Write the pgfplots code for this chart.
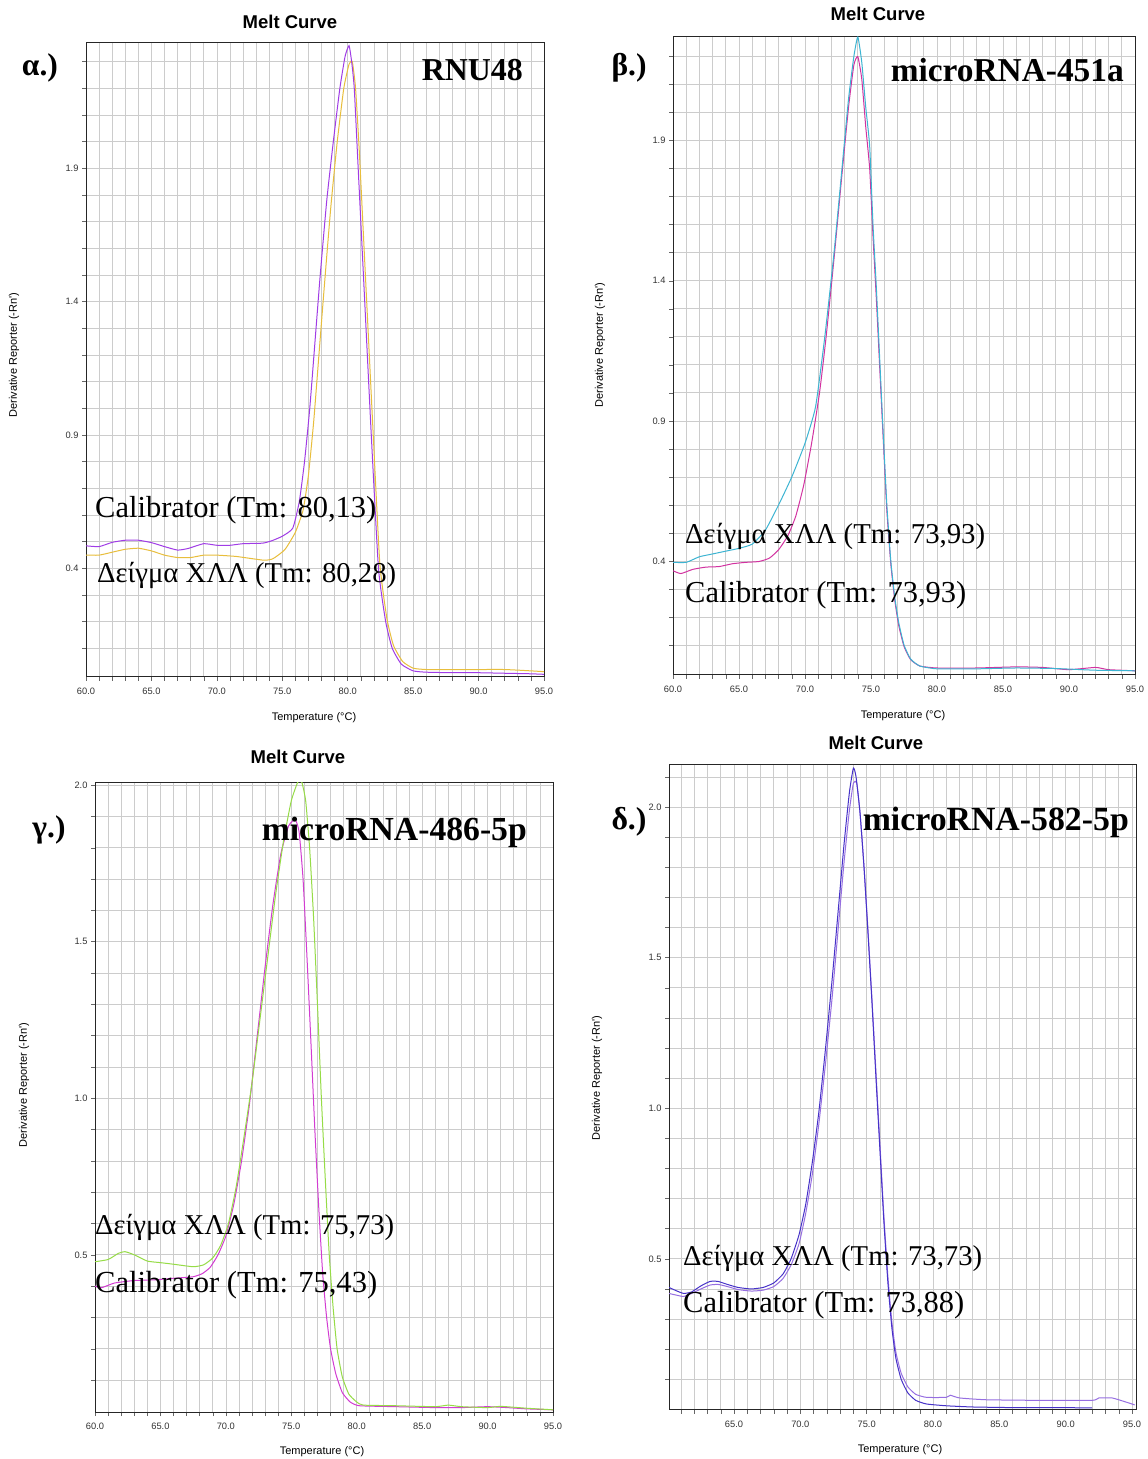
\documentclass[border=0pt]{standalone}
\usepackage{pgfplots}
\pgfplotsset{compat=1.18}
\usepackage{fontspec}
\setmainfont{Liberation Serif}
\newfontfamily\sansf{Liberation Sans}
\definecolor{apur}{RGB}{160,60,230}
\definecolor{ayel}{RGB}{232,190,60}
\definecolor{bcya}{RGB}{60,180,210}
\definecolor{bmag}{RGB}{210,50,160}
\definecolor{ggrn}{RGB}{150,220,70}
\definecolor{gmag}{RGB}{210,60,210}
\definecolor{ddrk}{RGB}{70,50,200}
\definecolor{dlgt}{RGB}{150,110,225}
\pgfplotsset{mc/.style={scale only axis, anchor=south west, xmin=60, xmax=95,
  grid=both, major grid style={draw=gray!40, line width=0.7pt}, minor grid style={draw=gray!40, line width=0.7pt},
  axis line style={draw=black!85, line width=1pt},
  tick align=outside, xtick pos=bottom, ytick pos=left,
  major tick length=4pt, minor tick length=4pt, tick style={black!60, line width=0.5pt},
  xtick={60,65,...,95}, xticklabels={60.0,65.0,70.0,75.0,80.0,85.0,90.0,95.0},
  minor xtick={61,62,...,94},
  tick label style={font=\sansf\fontsize{9.3}{10}\selectfont, text=black!80},
  xticklabel style={yshift=-3pt},
  every axis plot/.append style={line width=1pt, smooth, tension=0.3, mark=none}}}
\newcommand{\ann}[2]{\resizebox{#1pt}{!}{#2}}
\begin{document}
\begin{tikzpicture}
\path[use as bounding box, fill=white] (0pt,0pt) rectangle (1148pt,1459pt);
% ---------- alpha ----------
\begin{axis}[mc, at={(86pt,782pt)}, width=458pt, height=634pt, ymin=-0.008, ymax=2.37,
  ytick={0.4,0.9,1.4,1.9}, yticklabels={0.4,0.9,1.4,1.9}, minor ytick={0.1,0.2,...,2.35}]
\addplot[ayel] coordinates {(60,0.449)(61,0.449)(62,0.46)(63,0.471)(64,0.475)(65,0.465)(66,0.449)(67,0.44)(68,0.44)(69,0.449)(70,0.449)(71.5,0.444)(73.6,0.43)(74.3,0.436)(75.2,0.47)(76,0.535)(76.6,0.62)(77.0,0.75)(77.4,0.95)(77.8,1.2)(78.2,1.45)(78.7,1.75)(79.2,2.0)(79.7,2.2)(80.1,2.29)(80.35,2.3)(80.6,2.2)(80.9,1.95)(81.4,1.45)(81.9,0.95)(82.45,0.42)(83.0,0.21)(83.5,0.11)(84.2,0.05)(85,0.025)(86,0.02)(88,0.02)(90,0.02)(92,0.02)(94,0.015)(95,0.012)};
\addplot[apur] coordinates {(60,0.484)(61,0.481)(62,0.497)(63,0.505)(64,0.505)(65,0.496)(66,0.481)(67,0.468)(67.8,0.474)(69,0.492)(70,0.486)(71,0.486)(72,0.492)(73.5,0.494)(74.2,0.503)(75,0.52)(75.8,0.55)(76.3,0.65)(76.7,0.8)(77.1,1.0)(77.5,1.25)(77.9,1.5)(78.4,1.78)(78.9,2.0)(79.4,2.2)(79.8,2.32)(80.1,2.36)(80.3,2.3)(80.5,2.2)(80.8,1.9)(81.3,1.4)(81.8,0.9)(82.35,0.4)(82.9,0.2)(83.4,0.1)(84.1,0.04)(85,0.015)(86,0.01)(88,0.008)(90,0.008)(92,0.006)(94,0.004)(95,0.002)};
\end{axis}
% ---------- beta ----------
\begin{axis}[mc, at={(673pt,784pt)}, width=462pt, height=638pt, ymin=-0.007, ymax=2.27,
  ytick={0.4,0.9,1.4,1.9}, yticklabels={0.4,0.9,1.4,1.9}, minor ytick={0.1,0.2,...,2.25}]
\addplot[bmag] coordinates {(60,0.365)(60.6,0.355)(61.5,0.37)(62.5,0.378)(63.5,0.38)(64.5,0.39)(65.5,0.395)(66.5,0.398)(67.3,0.41)(68,0.44)(68.7,0.49)(69.3,0.56)(69.9,0.67)(70.5,0.82)(71.1,1.0)(71.6,1.2)(72.2,1.48)(72.8,1.78)(73.3,2.02)(73.7,2.17)(74.0,2.2)(74.3,2.12)(74.6,1.95)(74.9,1.8)(75.15,1.56)(75.4,1.34)(75.65,1.1)(75.9,0.86)(76.2,0.58)(76.5,0.39)(76.8,0.26)(77.1,0.17)(77.5,0.095)(78.0,0.048)(78.7,0.025)(80,0.018)(83,0.018)(86,0.022)(88,0.02)(90,0.012)(92,0.02)(93,0.012)(95,0.008)};
\addplot[bcya] coordinates {(60,0.395)(61,0.395)(62,0.415)(63,0.425)(64,0.435)(65,0.445)(66,0.46)(67,0.51)(68,0.6)(69,0.7)(70,0.82)(70.8,0.95)(71.5,1.2)(72.2,1.5)(72.8,1.8)(73.3,2.05)(73.7,2.2)(74.0,2.27)(74.3,2.18)(74.6,2.02)(74.9,1.88)(75.15,1.6)(75.4,1.38)(75.65,1.13)(75.9,0.88)(76.2,0.6)(76.5,0.4)(76.8,0.27)(77.1,0.18)(77.5,0.1)(78.0,0.05)(78.7,0.025)(80,0.015)(83,0.015)(86,0.018)(89,0.016)(92,0.01)(95,0.008)};
\end{axis}
% ---------- gamma ----------
\begin{axis}[mc, at={(95pt,47pt)}, width=458pt, height=629pt, ymin=-0.002, ymax=2.007,
  ytick={0.5,1.0,1.5,2.0}, yticklabels={0.5,1.0,1.5,2.0}, minor ytick={0.1,0.2,...,1.95}]
\addplot[gmag] coordinates {(60,0.4)(60.5,0.395)(61.5,0.41)(63,0.418)(64.5,0.42)(66,0.425)(67.5,0.43)(68.2,0.44)(68.8,0.46)(69.4,0.5)(70,0.56)(70.6,0.66)(71.2,0.8)(71.8,0.98)(72.4,1.2)(73.0,1.42)(73.6,1.62)(74.2,1.78)(74.8,1.87)(75.3,1.89)(75.6,1.85)(75.9,1.7)(76.2,1.45)(76.5,1.18)(76.8,0.9)(77.1,0.65)(77.4,0.44)(77.7,0.3)(78.0,0.2)(78.4,0.12)(78.9,0.06)(79.5,0.03)(80.2,0.018)(83,0.015)(86,0.012)(88,0.012)(90,0.015)(91.5,0.012)(93,0.008)(95,0.005)};
\addplot[ggrn] coordinates {(60,0.478)(61,0.485)(61.8,0.505)(62.3,0.51)(63,0.5)(64,0.48)(65,0.475)(66,0.47)(67.5,0.462)(68.3,0.468)(69,0.49)(69.6,0.53)(70.2,0.6)(70.8,0.72)(71.4,0.88)(72,1.05)(72.6,1.25)(73.2,1.45)(73.8,1.65)(74.4,1.82)(75.0,1.95)(75.5,2.01)(75.8,2.01)(76.1,1.95)(76.4,1.8)(76.7,1.58)(77.0,1.3)(77.3,1.0)(77.6,0.74)(77.9,0.5)(78.2,0.33)(78.5,0.2)(78.9,0.11)(79.4,0.055)(80,0.03)(80.5,0.02)(83,0.018)(86,0.015)(87,0.02)(88,0.015)(90,0.012)(91,0.016)(93,0.01)(95,0.005)};
\end{axis}
% ---------- delta ----------
\begin{axis}[mc, at={(669pt,49pt)}, width=467pt, height=645pt, xmin=60.1, xmax=95.3, ymin=-0.002, ymax=2.14,
  xtick={65,70,...,95}, xticklabels={65.0,70.0,75.0,80.0,85.0,90.0,95.0}, minor xtick={61,62,...,94},
  ytick={0.5,1.0,1.5,2.0}, yticklabels={0.5,1.0,1.5,2.0}, minor ytick={0.1,0.2,...,2.1}]
\addplot[dlgt] coordinates {(60.1,0.385)(60.6,0.38)(61.2,0.375)(61.8,0.385)(62.5,0.4)(63.2,0.413)(63.8,0.415)(64.5,0.408)(65.3,0.398)(66.3,0.393)(67.2,0.396)(68,0.408)(68.7,0.435)(69.3,0.48)(69.9,0.55)(70.4,0.65)(70.9,0.78)(71.4,0.95)(71.9,1.15)(72.4,1.37)(72.9,1.62)(73.3,1.82)(73.7,1.99)(74.0,2.08)(74.25,2.08)(74.5,1.98)(74.8,1.8)(75.1,1.59)(75.4,1.36)(75.7,1.12)(76.0,0.88)(76.3,0.64)(76.6,0.44)(76.9,0.29)(77.2,0.19)(77.6,0.12)(78.1,0.075)(78.7,0.05)(79.5,0.04)(81,0.04)(81.3,0.047)(82,0.038)(84,0.032)(88,0.03)(92,0.03)(92.5,0.038)(93.5,0.038)(94.5,0.025)(95.2,0.015)};
\addplot[ddrk] coordinates {(60.1,0.405)(60.6,0.395)(61.2,0.385)(61.8,0.39)(62.5,0.41)(63.2,0.425)(63.8,0.425)(64.5,0.415)(65.3,0.405)(66.3,0.4)(67.2,0.405)(68,0.42)(68.7,0.45)(69.3,0.5)(69.9,0.58)(70.4,0.68)(70.9,0.82)(71.4,0.99)(71.9,1.2)(72.4,1.43)(72.9,1.68)(73.3,1.88)(73.7,2.05)(74.0,2.13)(74.2,2.1)(74.5,1.98)(74.8,1.8)(75.1,1.58)(75.4,1.35)(75.7,1.1)(76.0,0.86)(76.3,0.62)(76.6,0.42)(76.9,0.27)(77.2,0.17)(77.6,0.1)(78.1,0.055)(78.7,0.03)(79.5,0.018)(81,0.012)(83,0.008)(86,0.006)(89,0.006)(92,0.005)};
\end{axis}
% ---------- titles & labels ----------
\begin{scope}[every node/.style={inner sep=0pt}]
\foreach \x/\y in {290/1437, 878/1445, 298/702, 876/716}
  \node[font=\sansf\bfseries\fontsize{18.5}{20}\selectfont] at (\x pt,\y pt) {Melt Curve};
\foreach \x/\y in {314/741, 903/743, 322/7, 900/9}
  \node[font=\sansf\fontsize{11}{12}\selectfont] at (\x pt,\y pt) {Temperature (°C)};
\foreach \x/\y in {14/1104, 600/1114, 24/374, 597/381}
  \node[font=\sansf\fontsize{11}{12}\selectfont, rotate=90] at (\x pt,\y pt) {Derivative Reporter (-Rn')};
\node at (40pt,1391pt) {\ann{36}{\bfseries α.)}};
\node at (629pt,1391pt) {\ann{35}{\bfseries β.)}};
\node at (49pt,629pt) {\ann{33}{\bfseries γ.)}};
\node at (629pt,637pt) {\ann{35}{\bfseries δ.)}};
\node[anchor=east] at (523pt,1389pt) {\ann{101}{\bfseries RNU48}};
\node[anchor=east] at (1124pt,1389pt) {\ann{233}{\bfseries microRNA-451a}};
\node[anchor=east] at (527pt,627pt) {\ann{265}{\bfseries microRNA-486-5p}};
\node[anchor=east] at (1129pt,637pt) {\ann{266}{\bfseries microRNA-582-5p}};
\node[anchor=west] at (95pt,949pt) {\ann{281}{Calibrator (Tm: 80,13)}};
\node[anchor=west] at (97pt,884pt) {\ann{299}{Δείγμα ΧΛΛ (Tm: 80,28)}};
\node[anchor=west] at (685pt,923pt) {\ann{300}{Δείγμα ΧΛΛ (Tm: 73,93)}};
\node[anchor=west] at (685pt,864pt) {\ann{281}{Calibrator (Tm: 73,93)}};
\node[anchor=west] at (95pt,232pt) {\ann{299}{Δείγμα ΧΛΛ (Tm: 75,73)}};
\node[anchor=west] at (95pt,174pt) {\ann{282}{Calibrator (Tm: 75,43)}};
\node[anchor=west] at (683pt,201pt) {\ann{299}{Δείγμα ΧΛΛ (Tm: 73,73)}};
\node[anchor=west] at (683pt,154pt) {\ann{281}{Calibrator (Tm: 73,88)}};
\end{scope}
\end{tikzpicture}
\end{document}
